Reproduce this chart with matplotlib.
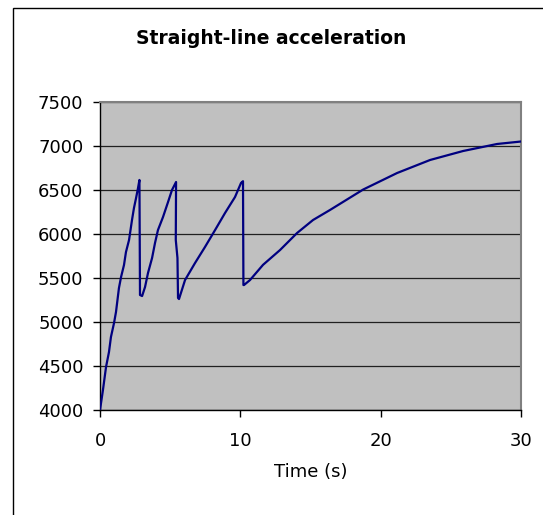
import matplotlib.pyplot as plt
from matplotlib.patches import Rectangle

# values (time in s, engine rpm)
time_s = [0.0, 0.21, 0.43, 0.64, 0.78, 1.00, 1.14, 1.35, 1.50, 1.71, 1.85,
          2.07, 2.28, 2.42, 2.57, 2.71, 2.81, 2.85, 3.00,
          3.21, 3.42, 3.71, 3.92, 4.13, 4.49, 4.85, 5.13, 5.42, 5.40, 5.52,
          5.56, 5.63,
          6.06, 6.77, 7.48, 8.20, 8.91, 9.62, 10.05, 10.19, 10.22,
          10.26, 10.69, 11.62, 12.83, 14.04, 15.18, 16.39, 18.75, 21.17,
          23.52, 25.87, 28.30, 29.94]
rpm = [4000, 4227, 4489, 4659, 4830, 4989, 5114, 5386, 5511, 5648, 5795,
       5932, 6159, 6295, 6409, 6523, 6614, 5307, 5295,
       5398, 5557, 5727, 5898, 6045, 6193, 6364, 6500, 6591, 5932, 5727,
       5273, 5261,
       5477, 5670, 5852, 6045, 6239, 6420, 6580, 6600, 5420,
       5420, 5477, 5650, 5818, 6011, 6159, 6273, 6505, 6693,
       6841, 6943, 7023, 7050]

x_ticks = [0, 10, 20, 30]
y_ticks = [4000, 4500, 5000, 5500, 6000, 6500, 7000, 7500]

W, H = 543, 515
fig = plt.figure(figsize=(W / 100, H / 100), dpi=100)

# outer chart border (cut off at right and bottom as in the screenshot)
fig.patches.append(Rectangle((13 / W, -0.1), 1.2, 1.1 - 8 / H,
                             transform=fig.transFigure, fill=False,
                             edgecolor='black', linewidth=1.0))

ax = fig.add_axes([100 / W, 1 - 410 / H, 421 / W, 308 / H])
ax.set_facecolor('#C0C0C0')
ax.plot(time_s, rpm, color='#000080', linewidth=1.6, zorder=3)

ax.set_xlim(0, 30)
ax.set_ylim(4000, 7500)
ax.set_xticks(x_ticks)
ax.set_yticks(y_ticks)
ax.grid(axis='y', color='#202020', linewidth=0.9)
ax.set_axisbelow(True)

for side in ['left', 'bottom']:
    ax.spines[side].set_color('black')
    ax.spines[side].set_linewidth(1.0)
for side in ['top', 'right']:
    ax.spines[side].set_color('#808080')
    ax.spines[side].set_linewidth(1.5)

ax.tick_params(axis='both', labelsize=13, length=5, width=1, color='black',
               direction='out')
ax.tick_params(axis='y', pad=7)
ax.tick_params(axis='x', pad=11)

ax.set_xlabel('Time (s)', fontsize=13, labelpad=9)
fig.text(0.5, 1 - 38 / H, 'Straight-line acceleration', ha='center',
         va='center', fontsize=13.5, fontweight='bold')

fig.savefig('out.png', dpi=100, facecolor='white')
